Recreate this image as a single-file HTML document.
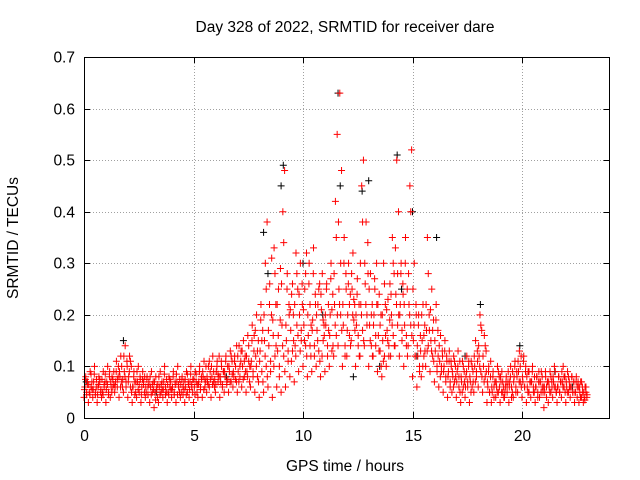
<!DOCTYPE html>
<html><head><meta charset="utf-8"><style>
body{margin:0;background:#fff}
svg{display:block;font-family:"Liberation Sans",sans-serif}
</style></head><body>
<svg id="chart" width="640" height="480" viewBox="0 0 640 480">
<text x="345" y="32" font-size="15.5" text-anchor="middle">Day 328 of 2022, SRMTID for receiver dare</text>
<g id="grid"></g>
<g id="pts"></g>
<rect x="84.5" y="57.5" width="525" height="361" fill="none" stroke="#000"/>
<g id="axes"></g>
<text x="345" y="471" font-size="15.5" text-anchor="middle">GPS time / hours</text>
<text transform="translate(18,238) rotate(-90)" font-size="15.5" text-anchor="middle">SRMTID / TECUs</text>
</svg>
<script>
const xTicks=[0,5,10,15,20];
const yTicks=[0,0.1,0.2,0.3,0.4,0.5,0.6,0.7];
const yTickLabels=["0","0.1","0.2","0.3","0.4","0.5","0.6","0.7"];
const redRows=[
[0.0,.04,.06,.08,.05,.07],[0.2,.03,.05,.09,.06,.07],[0.4,.04,.07,.10,.05,.06],[0.6,.03,.06,.08,.07,.05],
[0.8,.04,.05,.09,.06,.07],[1.0,.03,.07,.10,.05,.08],[1.2,.04,.06,.08,.06,.09],[1.4,.05,.07,.11,.06,.08],
[1.6,.04,.08,.12,.07,.06],[1.8,.05,.09,.14,.07,.11],[2.0,.04,.08,.12,.06,.10],[2.2,.03,.06,.09,.07,.05],
[2.4,.04,.07,.10,.05,.08],[2.6,.03,.06,.09,.07,.05],[2.8,.04,.05,.08,.06,.07],[3.0,.03,.06,.09,.05,.07],
[3.2,.02,.05,.08,.06,.04],[3.4,.03,.06,.09,.05,.07],[3.6,.04,.07,.10,.06,.05],[3.8,.03,.05,.08,.06,.07],
[4.0,.04,.06,.09,.05,.07],[4.2,.03,.07,.10,.06,.05],[4.4,.04,.05,.08,.06,.07],[4.6,.03,.06,.09,.05,.07],
[4.8,.04,.07,.10,.06,.05],[5.0,.03,.06,.09,.07,.05],[5.2,.04,.07,.10,.06,.08],[5.4,.04,.08,.11,.06,.07],
[5.6,.05,.07,.10,.06,.09],[5.8,.04,.08,.12,.07,.06],[6.0,.05,.09,.11,.07,.08],[6.2,.04,.07,.10,.06,.09],
[6.4,.05,.08,.12,.07,.10],[6.6,.05,.09,.13,.07,.11],[6.8,.06,.08,.12,.10,.07],[7.0,.05,.09,.14,.08,.11],
[7.2,.06,.10,.15,.08,.12],[7.4,.05,.09,.16,.11,.07],[7.6,.06,.11,.18,.09,.13],[7.8,.05,.12,.20,.08,.15],
[8.0,.04,.13,.22,.09,.17],[8.2,.05,.15,.30,.10,.38],[8.4,.06,.14,.26,.11,.20],[8.6,.04,.16,.33,.12,.22],
[8.8,.06,.13,.25,.10,.19],[9.0,.05,.18,.40,.12,.48],[9.2,.06,.15,.28,.11,.22],[9.4,.08,.17,.24,.13,.20],
[9.6,.07,.14,.32,.18,.25],[9.8,.09,.20,.30,.15,.26],[10.0,.10,.18,.25,.14,.32],[10.2,.08,.16,.30,.22,.12],
[10.4,.09,.19,.33,.14,.24],[10.6,.10,.17,.22,.13,.26],[10.8,.08,.21,.28,.15,.18],[11.0,.09,.18,.26,.14,.22],
[11.2,.10,.20,.30,.13,.24],[11.4,.12,.22,.42,.16,.55],[11.6,.14,.25,.63,.20,.48],[11.8,.10,.18,.35,.14,.28],
[12.0,.12,.20,.30,.16,.24],[12.2,.15,.25,.32,.19,.22],[12.4,.10,.18,.27,.14,.22],[12.6,.12,.22,.45,.17,.50],
[12.8,.14,.26,.38,.20,.34],[13.0,.10,.18,.28,.14,.22],[13.2,.12,.20,.25,.16,.30],[13.4,.09,.16,.24,.13,.20],
[13.6,.08,.15,.30,.12,.22],[13.8,.10,.17,.23,.14,.19],[14.0,.12,.20,.35,.16,.28],[14.2,.14,.24,.50,.18,.40],
[14.4,.12,.22,.30,.17,.26],[14.6,.10,.18,.35,.14,.25],[14.8,.14,.22,.45,.18,.52],[15.0,.08,.15,.30,.12,.22],
[15.2,.06,.12,.20,.10,.16],[15.4,.08,.15,.22,.12,.18],[15.6,.10,.17,.35,.14,.20],[15.8,.09,.15,.25,.12,.19],
[16.0,.07,.13,.22,.10,.17],[16.2,.06,.11,.16,.09,.13],[16.4,.05,.10,.15,.08,.12],[16.6,.04,.09,.13,.07,.11],
[16.8,.05,.08,.12,.07,.10],[17.0,.04,.09,.13,.06,.11],[17.2,.03,.07,.11,.06,.09],[17.4,.04,.08,.12,.06,.10],
[17.6,.03,.07,.11,.06,.09],[17.8,.05,.10,.15,.08,.13],[18.0,.06,.12,.20,.09,.17],[18.2,.05,.10,.16,.08,.13],
[18.4,.03,.06,.10,.05,.08],[18.6,.03,.05,.09,.06,.07],[18.8,.04,.06,.10,.05,.08],[19.0,.03,.07,.09,.05,.06],
[19.2,.04,.06,.08,.05,.07],[19.4,.03,.07,.10,.06,.05],[19.6,.04,.08,.11,.06,.09],[19.8,.05,.09,.13,.07,.12],
[20.0,.04,.07,.12,.06,.09],[20.2,.03,.06,.09,.05,.07],[20.4,.04,.07,.10,.06,.05],[20.6,.03,.06,.08,.05,.07],
[20.8,.04,.07,.09,.06,.05],[21.0,.02,.05,.08,.06,.07],[21.2,.03,.06,.09,.05,.07],[21.4,.04,.07,.10,.06,.05],
[21.6,.03,.06,.08,.05,.07],[21.8,.04,.07,.10,.06,.08],[22.0,.03,.06,.09,.05,.07],[22.2,.04,.06,.08,.05,.07],
[22.4,.03,.05,.08,.06,.07],[22.6,.03,.05,.07,.04,.06],[22.8,.03,.04,.06,.05,.04]];
const redExtra=[
[.055,.075,.045,.065],[.065,.045,.085,.055],[.055,.085,.045,.075],[.045,.065,.075,.055],
[.075,.045,.065,.085],[.055,.065,.045,.09],[.07,.05,.075,.065],[.06,.09,.075,.10],
[.09,.06,.10,.075],[.12,.08,.06,.10],[.07,.09,.11,.05],[.06,.08,.045,.07],
[.09,.055,.065,.075],[.045,.075,.065,.08],[.06,.075,.045,.065],[.08,.045,.065,.055],
[.07,.035,.055,.065],[.08,.045,.065,.055],[.055,.085,.045,.075],[.065,.045,.075,.055],
[.055,.08,.045,.065],[.085,.045,.065,.075],[.065,.075,.045,.055],[.075,.045,.085,.065],
[.055,.085,.065,.075],[.075,.045,.085,.065],[.065,.09,.055,.075],[.09,.055,.075,.10],
[.08,.065,.11,.075],[.10,.065,.09,.075],[.065,.10,.085,.12],[.08,.11,.065,.09],
[.09,.11,.065,.075],[.10,.07,.12,.085],[.09,.11,.075,.14],[.12,.07,.10,.13],
[.13,.075,.11,.09],[.12,.08,.14,.10],[.10,.15,.08,.16],[.17,.10,.13,.07],
[.11,.19,.15,.07],[.20,.12,.25,.08],[.17,.22,.09,.31],[.19,.10,.28,.14],
[.22,.16,.08,.29],[.26,.14,.34,.09],[.18,.25,.13,.20],[.21,.11,.26,.15],
[.22,.12,.28,.16],[.24,.13,.17,.22],[.21,.15,.28,.12],[.20,.26,.14,.18],
[.17,.28,.12,.22],[.20,.15,.25,.11],[.24,.12,.19,.16],[.20,.25,.12,.17],
[.16,.27,.21,.14],[.28,.18,.35,.20],[.38,.22,.30,.17],[.22,.30,.12,.25],
[.17,.26,.22,.14],[.28,.20,.23,.17],[.20,.24,.16,.12],[.30,.20,.38,.15],
[.30,.22,.18,.28],[.25,.15,.20,.12],[.18,.27,.14,.22],[.22,.13,.18,.10],
[.20,.11,.26,.16],[.21,.15,.12,.26],[.24,.18,.30,.14],[.33,.22,.28,.20],
[.20,.28,.15,.24],[.22,.30,.16,.12],[.28,.20,.40,.16],[.25,.18,.12,.20],
[.14,.18,.09,.13],[.20,.10,.16,.13],[.22,.13,.28,.17],[.21,.13,.17,.11],
[.15,.19,.09,.12],[.14,.08,.10,.12],[.09,.13,.07,.11],[.08,.11,.06,.10],
[.09,.06,.11,.08],[.07,.10,.08,.05],[.08,.05,.10,.07],[.06,.09,.07,.11],
[.08,.05,.10,.07],[.12,.07,.09,.11],[.14,.10,.18,.08],[.12,.07,.14,.09],
[.07,.09,.05,.11],[.06,.08,.04,.07],[.07,.05,.09,.06],[.08,.05,.07,.04],
[.05,.07,.06,.09],[.06,.08,.04,.09],[.07,.10,.05,.08],[.11,.07,.10,.06],
[.08,.11,.06,.10],[.08,.05,.09,.07],[.07,.09,.05,.08],[.06,.08,.04,.09],
[.07,.05,.08,.06],[.06,.09,.04,.07],[.07,.05,.08,.06],[.08,.06,.09,.05],
[.06,.08,.05,.07],[.09,.06,.08,.05],[.07,.05,.08,.06],[.06,.08,.05,.07],
[.05,.07,.04,.06],[.06,.04,.07,.05],[.05,.035,.06,.045]];
const blackTimes=[0.1,1.8,3.3,6.5,8.2,8.4,9.0,9.1,10.0,10.9,11.6,11.7,12.3,12.7,13.0,13.5,14.3,14.5,15.0,15.2,16.1,17.4,18.1,19.9,21.5,22.3];
const blackVals=[0.07,0.15,0.05,0.08,0.36,0.28,0.45,0.49,0.30,0.20,0.63,0.45,0.08,0.44,0.46,0.10,0.51,0.25,0.40,0.12,0.35,0.12,0.22,0.14,0.09,0.06];
const X0=84,X1=609.6,Y0=418,Y1=57;
function xs(t){return X0+(X1-X0)*t/24;}
function ys(v){return Y0-(Y0-Y1)*v/0.7;}
const NS='http://www.w3.org/2000/svg';
const grid=document.getElementById('grid'),axes=document.getElementById('axes'),pts=document.getElementById('pts');
function mk(tag,attrs,parent){const e=document.createElementNS(NS,tag);for(const k in attrs)e.setAttribute(k,attrs[k]);parent.appendChild(e);return e;}
xTicks.forEach(t=>{
  const x=Math.round(xs(t))+0.5;
  if(t>0){const g=mk('line',{x1:x,x2:x,y1:Y1,y2:Y0,stroke:'#a0a0a0','stroke-dasharray':'1,2'},grid);
  
  }
  const tk=mk('path',{d:`M${x},${Y0}v-6M${x},${Y1}v6`,stroke:'#000'},axes);
  
  
  const l=mk('text',{x:x,y:Y0+23,'font-size':'15.5','text-anchor':'middle'},axes);l.textContent=t;
  
  
});
yTicks.forEach((v,i)=>{
  const y=Math.round(ys(v))+0.5;
  if(v>0&&v<0.7){const g=mk('line',{x1:X0,x2:X1,y1:y,y2:y,stroke:'#a0a0a0','stroke-dasharray':'1,2'},grid);
  
  }
  const tk=mk('path',{d:`M${X0},${y}h6M${X1},${y}h-6`,stroke:'#000'},axes);
  
  
  const l=mk('text',{x:X0-9,y:y+5,'font-size':'15.5','text-anchor':'end'},axes);l.textContent=yTickLabels[i];
  
  
});
function plus(x,y,c){
  return mk('path',{d:`M${x-3.5},${y}h7M${x},${y-3.5}v7`,stroke:c,'stroke-width':'1'},pts);
}
blackTimes.forEach((t,i)=>{
  const p=plus(xs(t),ys(blackVals[i]),'#000');
  
  
});
redRows.forEach((r,ri)=>{
  for(let i=1;i<r.length;i++){
    const p=plus(xs(r[0]+(i-1)*0.04),ys(r[i]),'#ff0000');
    
    
  }
  const ex=redExtra[ri]||[];
  ex.forEach((v,i)=>{
    const p=plus(xs(r[0]+0.02+i*0.05),ys(v),'#ff0000');
    
    
  });
});
</script>
</body></html>
